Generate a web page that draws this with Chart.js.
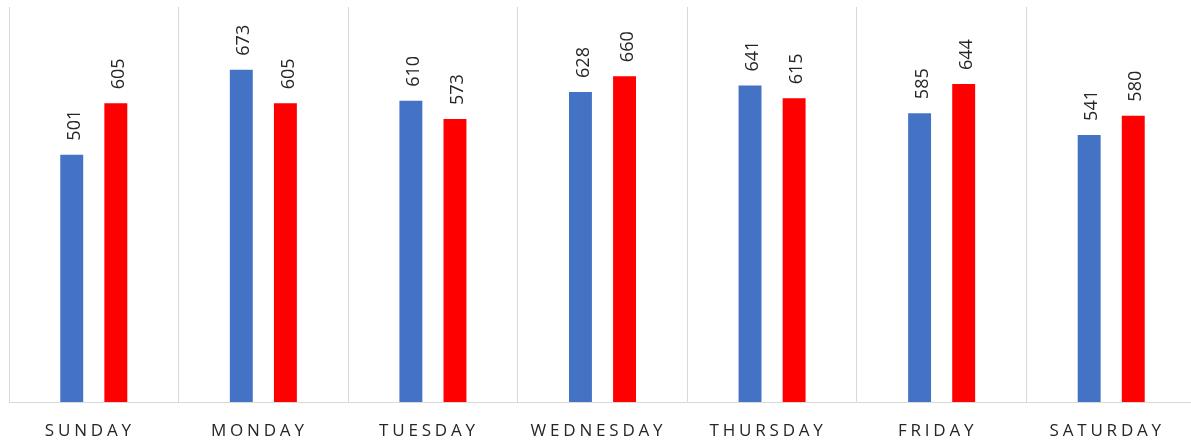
<!DOCTYPE html>
<html>
<head>
<meta charset="utf-8">
<script src="https://cdn.jsdelivr.net/npm/chart.js@4"></script>
<style>
    html, body { margin: 0; padding: 0; background: #fff; overflow: hidden; }
</style>
</head>
<body>
<canvas id="dayChart" width="1200" height="440"></canvas>
<script>
const days = ['SUNDAY', 'MONDAY', 'TUESDAY', 'WEDNESDAY', 'THURSDAY', 'FRIDAY', 'SATURDAY'];
const blueValues = [501, 673, 610, 628, 641, 585, 541];
const redValues = [605, 605, 573, 660, 615, 644, 580];
const yMax = 800;

const textColor = '#262626';
const gridColor = '#d9d9d9';

// spaced-out capitals on the day names
const letterSpacing = {
    id: 'letterSpacing',
    beforeDraw(chart) {
        chart.ctx.letterSpacing = '3.8px';
    },
    afterDraw(chart) {
        chart.ctx.letterSpacing = '0px';
    }
};

// value written sideways above each bar
const barValues = {
    id: 'barValues',
    afterDatasetsDraw(chart) {
        const ctx = chart.ctx;
        chart.data.datasets.forEach((ds, i) => {
            chart.getDatasetMeta(i).data.forEach((bar, j) => {
                ctx.save();
                ctx.letterSpacing = '0px';
                ctx.translate(bar.x + 3, bar.y - 14);
                ctx.rotate(-Math.PI / 2);
                ctx.font = '18px "Open Sans"';
                ctx.fillStyle = textColor;
                ctx.textAlign = 'left';
                ctx.textBaseline = 'middle';
                ctx.fillText(String(ds.data[j]), 0, 0);
                ctx.restore();
            });
        });
    }
};

(function () {
    const ctx = document.getElementById('dayChart');
    const myChart = new Chart(ctx, {
        type: 'bar',
        data: {
            labels: days,
            datasets: [{
                label: 'Blue',
                data: blueValues,
                backgroundColor: '#4472C4',
                categoryPercentage: 0.52,
                barPercentage: 0.52,
            },
            {
                label: 'Red',
                data: redValues,
                backgroundColor: '#FF0000',
                categoryPercentage: 0.52,
                barPercentage: 0.52,
            }]
        },
        options: {
            responsive: false,
            animation: false,
            layout: {
                padding: { left: 9, right: 4, top: 7, bottom: 0 }
            },
            scales: {
                x: {
                    afterFit(scale) {
                        scale.height = 38;
                    },
                    grid: {
                        color: gridColor,
                        lineWidth: 1,
                        drawTicks: false,
                        offset: true,
                    },
                    border: { color: gridColor, width: 1 },
                    ticks: {
                        color: textColor,
                        padding: 19,
                        labelOffset: -4,
                        font: { family: 'Open Sans', size: 17 },
                    }
                },
                y: {
                    display: false,
                    min: 0,
                    max: yMax,
                }
            },
            plugins: {
                legend: { display: false },
                tooltip: { enabled: false },
            }
        },
        plugins: [letterSpacing, barValues]
    });
})();
</script>
</body>
</html>
